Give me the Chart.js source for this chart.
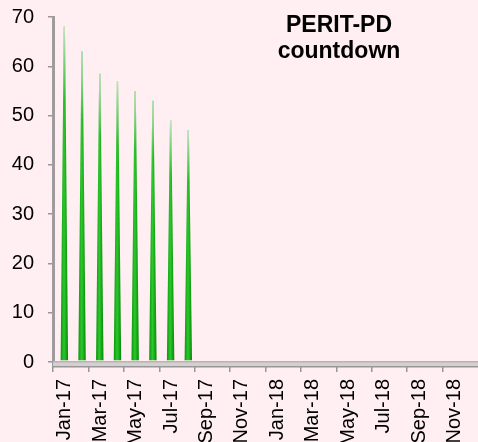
<!DOCTYPE html>
<html>
<head>
<meta charset="utf-8">
<script src="https://cdn.jsdelivr.net/npm/chart.js@4.4.1/dist/chart.umd.min.js"></script>
<style>
html,body{margin:0;padding:0;background:#FFEEF2;}
#wrap{width:478px;height:442px;position:relative;}
</style>
</head>
<body>
<div id="wrap"><canvas id="c" width="478" height="442"></canvas></div>
<script>
const months = ["Jan-17","Feb-17","Mar-17","Apr-17","May-17","Jun-17","Jul-17","Aug-17","Sep-17","Oct-17","Nov-17","Dec-17",
                "Jan-18","Feb-18","Mar-18","Apr-18","May-18","Jun-18","Jul-18","Aug-18","Sep-18","Oct-18","Nov-18","Dec-18"];
const countdown = [68,63,58.5,57,55,53,49,47,null,null,null,null,null,null,null,null,null,null,null,null,null,null,null,null];
const yTicks = [0,10,20,30,40,50,60,70];
const titleLines = ["PERIT-PD","countdown"];

const bgPlugin = {
  id:'bg',
  beforeDraw(chart){
    const c = chart.ctx;
    c.save(); c.fillStyle = '#FFEEF2'; c.fillRect(0,0,chart.width,chart.height); c.restore();
  }
};

const conePlugin = {
  id:'cones',
  afterDatasetsDraw(chart){
    const c = chart.ctx;
    const area = chart.chartArea;
    // floor band
    c.save();
    c.fillStyle = '#d4d0d2';
    c.fillRect(area.left, area.bottom-1, chart.width-area.left, 6);
    c.fillStyle = '#b8b4b6';
    c.fillRect(area.left, area.bottom-1, chart.width-area.left, 1.5);
    c.fillStyle = '#9a9698';
    c.fillRect(area.left, area.bottom+4, chart.width-area.left, 1.5);
    c.restore();
    const meta = chart.getDatasetMeta(0);
    meta.data.forEach((bar,i)=>{
      if (countdown[i] == null) return;
      const p = bar.getProps(['x','y','base','width'], true);
      const cx = p.x + 2.5, w = p.width, tip = p.y, base = p.base - 1;
      const tw = 1.2;
      c.save();
      c.beginPath();
      c.moveTo(cx - w/2, base);
      c.lineTo(cx + w/2, base);
      c.lineTo(cx + tw/2, tip);
      c.lineTo(cx - tw/2, tip);
      c.closePath();
      const g = c.createLinearGradient(cx - w/2, 0, cx + w/2, 0);
      g.addColorStop(0, '#0a960a');
      g.addColorStop(0.45, '#2cc82c');
      g.addColorStop(1, '#078807');
      c.fillStyle = g;
      c.fill();
      const h = base - tip;
      const v = c.createLinearGradient(0, tip, 0, tip + h*0.22);
      v.addColorStop(0, 'rgba(220,228,218,0.9)');
      v.addColorStop(1, 'rgba(220,228,218,0)');
      c.fillStyle = v;
      c.fill();
      c.restore();
    });
  }
};

const titlePlugin = {
  id:'ttl',
  afterDraw(chart){
    const c = chart.ctx;
    c.save();
    c.font = 'bold 23px "Liberation Sans", Arial, sans-serif';
    c.fillStyle = '#000';
    c.textAlign = 'center';
    c.textBaseline = 'alphabetic';
    c.fillText(titleLines[0], 339, 32);
    c.fillText(titleLines[1], 339, 58);
    c.restore();
  }
};

new Chart(document.getElementById('c'), {
  type:'bar',
  data:{
    labels: months,
    datasets:[{data: countdown, backgroundColor:'rgba(0,0,0,0)', borderWidth:0, barPercentage:0.42, categoryPercentage:1}]
  },
  options:{
    responsive:false,
    animation:false,
    layout:{padding:{top:17,right:0,left:0,bottom:0}},
    plugins:{legend:{display:false}, tooltip:{enabled:false}, title:{display:false}},
    scales:{
      x:{
        offset:true,
        grid:{offset:true, drawOnChartArea:false, drawTicks:true, tickLength:10,
              color:(ctx)=> (ctx.index % 2 === 0) ? '#9a9698' : 'rgba(0,0,0,0)', lineWidth:1.5},
        border:{display:false},
        ticks:{autoSkip:false, maxRotation:90, minRotation:90, padding:7, labelOffset:3, color:'#000',
               font:{family:'"Liberation Sans", Arial, sans-serif', size:20},
               callback:(v,i)=> i % 2 === 0 ? months[i] : ''},
        afterFit:(s)=>{ s.height = 80; s.paddingLeft = 0; s.paddingRight = 0; }
      },
      y:{
        min:0, max:70,
        afterBuildTicks:(s)=>{ s.ticks = yTicks.map(v=>({value:v})); },
        grid:{drawOnChartArea:false, drawTicks:true, tickLength:5, color:'#9a9698', lineWidth:1.5},
        border:{display:true, color:'#a09c9e', width:3},
        ticks:{padding:14, color:'#000', font:{family:'"Liberation Sans", Arial, sans-serif', size:20}},
        afterFit:(s)=>{ s.width = 53; s.paddingTop = 0; s.paddingBottom = 0; }
      }
    }
  },
  plugins:[bgPlugin, conePlugin, titlePlugin]
});
</script>
</body>
</html>
